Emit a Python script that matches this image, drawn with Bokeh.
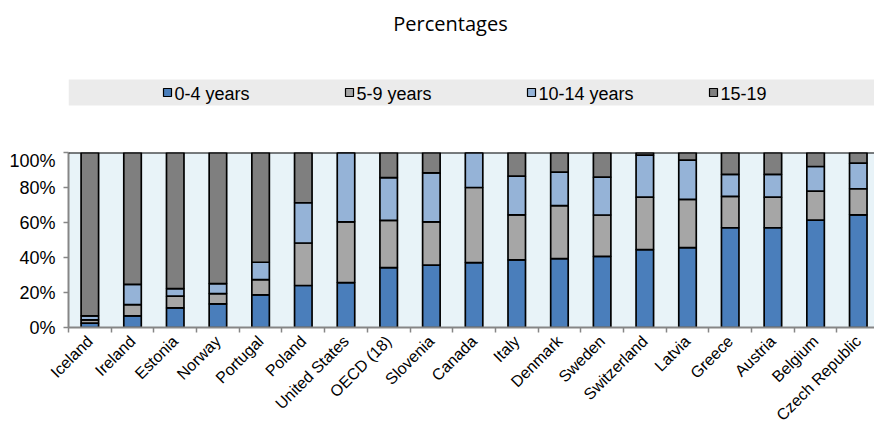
from bokeh.plotting import figure
from bokeh.models import ColumnDataSource, Range1d, FixedTicker, PrintfTickFormatter, Span
from bokeh.layouts import column
from bokeh.core.properties import value
from bokeh.embed import file_html
from bokeh.resources import INLINE
import math

# Share of each age group (percent of total)
countries = ["Iceland", "Ireland", "Estonia", "Norway", "Portugal", "Poland",
             "United States", "OECD (18)", "Slovenia", "Canada", "Italy", "Denmark",
             "Sweden", "Switzerland", "Latvia", "Greece", "Austria", "Belgium",
             "Czech Republic"]
age_0_4 = [2.5, 6.7, 11.2, 13.5, 18.6, 24.0, 25.7, 34.2, 35.6, 37.1, 38.6, 39.4,
           40.7, 44.5, 45.6, 57.0, 57.0, 61.4, 64.4]
age_5_9 = [1.9, 6.4, 6.7, 5.9, 8.8, 24.3, 34.7, 27.0, 24.8, 42.9, 25.8, 30.2,
           23.6, 30.0, 27.6, 17.9, 17.5, 16.5, 14.9]
age_10_14 = [2.3, 11.6, 4.3, 5.7, 9.9, 23.0, 39.6, 24.5, 28.0, 20.0, 22.1, 19.2,
             21.6, 24.0, 22.4, 12.6, 13.0, 14.1, 14.6]
age_15_19 = [93.3, 75.3, 77.8, 74.9, 62.7, 28.7, 0.0, 14.3, 11.6, 0.0, 13.5, 11.2,
             14.1, 1.5, 4.4, 12.5, 12.5, 8.0, 6.1]

series_names = ["0-4 years", "5-9 years", "10-14 years", "15-19"]
series_keys = ["a0_4", "a5_9", "a10_14", "a15_19"]
series_colors = ["#4A7EBB", "#A6A6A6", "#95B3D7", "#7F7F7F"]
y_ticks = [0, 20, 40, 60, 80, 100]

W = 874
LEFT = 68
TOP_H = 150
AXIS_GREY = "#868686"
LABEL_FONT = "Liberation Sans"

# ---- header: title and legend strip (pixel-like coordinates) ----
top = figure(width=W, height=TOP_H, x_range=Range1d(LEFT, W), y_range=Range1d(TOP_H, 0),
             output_backend="svg", toolbar_location=None, min_border=0,
             min_border_left=LEFT, min_border_right=0)
top.axis.visible = False
top.grid.visible = False
top.outline_line_color = None

top.text(x=[450], y=[23], text=["Percentages"], text_font=value("Open Sans"),
         text_font_size="20px", text_align="center", text_baseline="middle",
         text_color="#000000")
top.quad(left=[LEFT], right=[W], top=[79], bottom=[105], fill_color="#EBEBEB",
         line_color=None)

# legend: evenly spaced slots, a swatch followed by its label
SLOT0, SLOT_W, ROW_Y = 163, 182, 92
slot_x = [SLOT0 + i * SLOT_W for i in range(len(series_names))]
top.rect(x=[sx + 4 for sx in slot_x], y=[ROW_Y] * len(slot_x), width=8, height=8,
         fill_color=series_colors, line_color="black", line_width=1.2)
top.text(x=[sx + 11 for sx in slot_x], y=[ROW_Y + 1] * len(slot_x), text=series_names,
         text_font=value(LABEL_FONT), text_font_size="18px", text_align="left",
         text_baseline="middle", text_color="#000000")

# ---- stacked bar chart ----
src = ColumnDataSource(dict(x=list(range(len(countries))), a0_4=age_0_4, a5_9=age_5_9,
                            a10_14=age_10_14, a15_19=age_15_19))

p = figure(width=W, height=282, x_range=Range1d(-0.5, 18.38), y_range=Range1d(0, 100),
           output_backend="svg", toolbar_location=None,
           min_border_left=LEFT, min_border_right=0, min_border_top=2, min_border_bottom=104)
p.background_fill_color = "#E8F3F8"
p.outline_line_color = None
p.grid.visible = False

p.vbar_stack(series_keys, x="x", width=0.41, color=series_colors, line_color="black",
             line_width=1.7, source=src)

p.add_layout(Span(location=100, dimension="width", line_color="#000000", line_width=2))

centers = list(range(len(countries)))
edges = [i - 0.5 for i in range(len(countries) + 1)]
p.xaxis.ticker = FixedTicker(ticks=centers, minor_ticks=edges)
p.xaxis.major_label_overrides = {i: c for i, c in enumerate(countries)}
p.xaxis.major_label_orientation = math.pi / 4
p.xaxis.major_tick_line_color = None
p.xaxis.major_tick_out = 5
p.xaxis.major_tick_in = 0
p.xaxis.minor_tick_out = 5
p.xaxis.minor_tick_in = 0
p.xaxis.minor_tick_line_color = AXIS_GREY
p.xaxis.minor_tick_line_width = 1.5
p.xaxis.major_label_standoff = 6
p.xaxis.major_label_text_font_size = "16px"

p.yaxis.ticker = FixedTicker(ticks=y_ticks)
p.yaxis.formatter = PrintfTickFormatter(format="%d%%")
p.yaxis.major_tick_out = 5
p.yaxis.major_tick_in = 0
p.yaxis.minor_tick_line_color = None
p.yaxis.major_tick_line_color = AXIS_GREY
p.yaxis.major_tick_line_width = 1.5
p.yaxis.major_label_standoff = 8
p.yaxis.major_label_text_font_size = "18px"

for ax in (p.xaxis, p.yaxis):
    ax.axis_line_color = AXIS_GREY
    ax.axis_line_width = 2
    ax.major_label_text_font = LABEL_FONT
    ax.major_label_text_color = "#000000"

layout = column(top, p, spacing=0)
open("out.html", "w").write(file_html(layout, INLINE))
